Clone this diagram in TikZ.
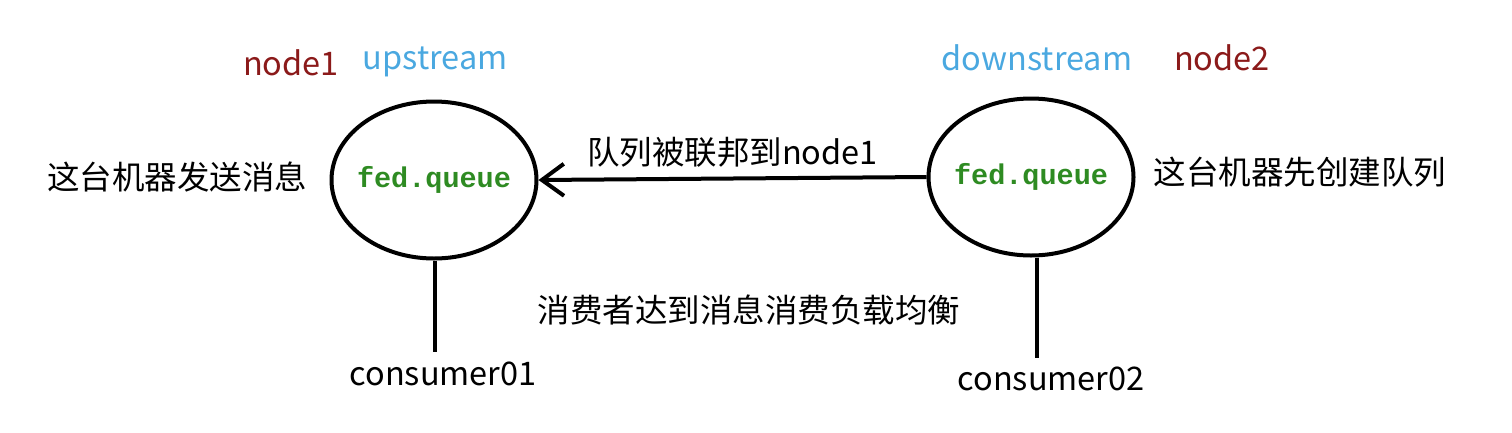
\documentclass[tikz,border=0pt]{standalone}
\usepackage{fontspec}
\setmainfont{Noto Sans CJK SC}
\newfontfamily\codefont{Liberation Mono}
\usetikzlibrary{arrows.meta,shapes.geometric}
\definecolor{nodered}{HTML}{8B1A1A}
\definecolor{streamblue}{HTML}{4AA8E0}
\definecolor{codegreen}{HTML}{2E8B22}
\tikzset{
  queue/.style={draw, line width=4pt, ellipse, minimum width=205pt, minimum height=157pt, inner sep=0pt},
  qlabel/.style={font=\codefont\bfseries\fontsize{28.5}{31}\selectfont, text=codegreen},
  txt/.style={font=\fontsize{32.5}{36}\selectfont, inner sep=0pt},
  rname/.style={txt, text=nodered},
  bname/.style={txt, text=streamblue},
  link/.style={line width=4pt},
}
\begin{document}
\begin{tikzpicture}[x=1pt,y=-1pt]
\useasboundingbox (0,0) rectangle (1512,432);
\node[queue] (q1) at (434,180) {};
\node[qlabel] at (q1.center) {fed.queue};
\node[queue] (q2) at (1031,177) {};
\node[qlabel] at (q2.center) {fed.queue};
\draw[link, -{Straight Barb[length=22pt,width=32pt,line width=4pt]}] (q2.west) -- (q1.east)
  node[midway, above=9pt, txt] (fedlabel) {队列被联邦到node1};
\node[rname] (n1) at (291,63) {node1};
\node[bname] (up) at (435,62) {upstream};
\node[bname] (down) at (1037,58) {downstream};
\node[rname] (n2) at (1222,58) {node2};
\node[txt] (send) at (177,177) {这台机器发送消息};
\node[txt] (create) at (1300,172) {这台机器先创建队列};
\node[txt] (balance) at (749,310) {消费者达到消息消费负载均衡};
\coordinate (c1top) at (435,352);
\coordinate (c2top) at (1037,358);
\draw[link] (q1.south) ++(1,0) -- (c1top);
\draw[link] (q2.south) ++(6,0) -- (c2top);
\node[txt] (c1) at (443,374) {consumer01};
\node[txt] (c2) at (1051,379) {consumer02};
\end{tikzpicture}
\end{document}
